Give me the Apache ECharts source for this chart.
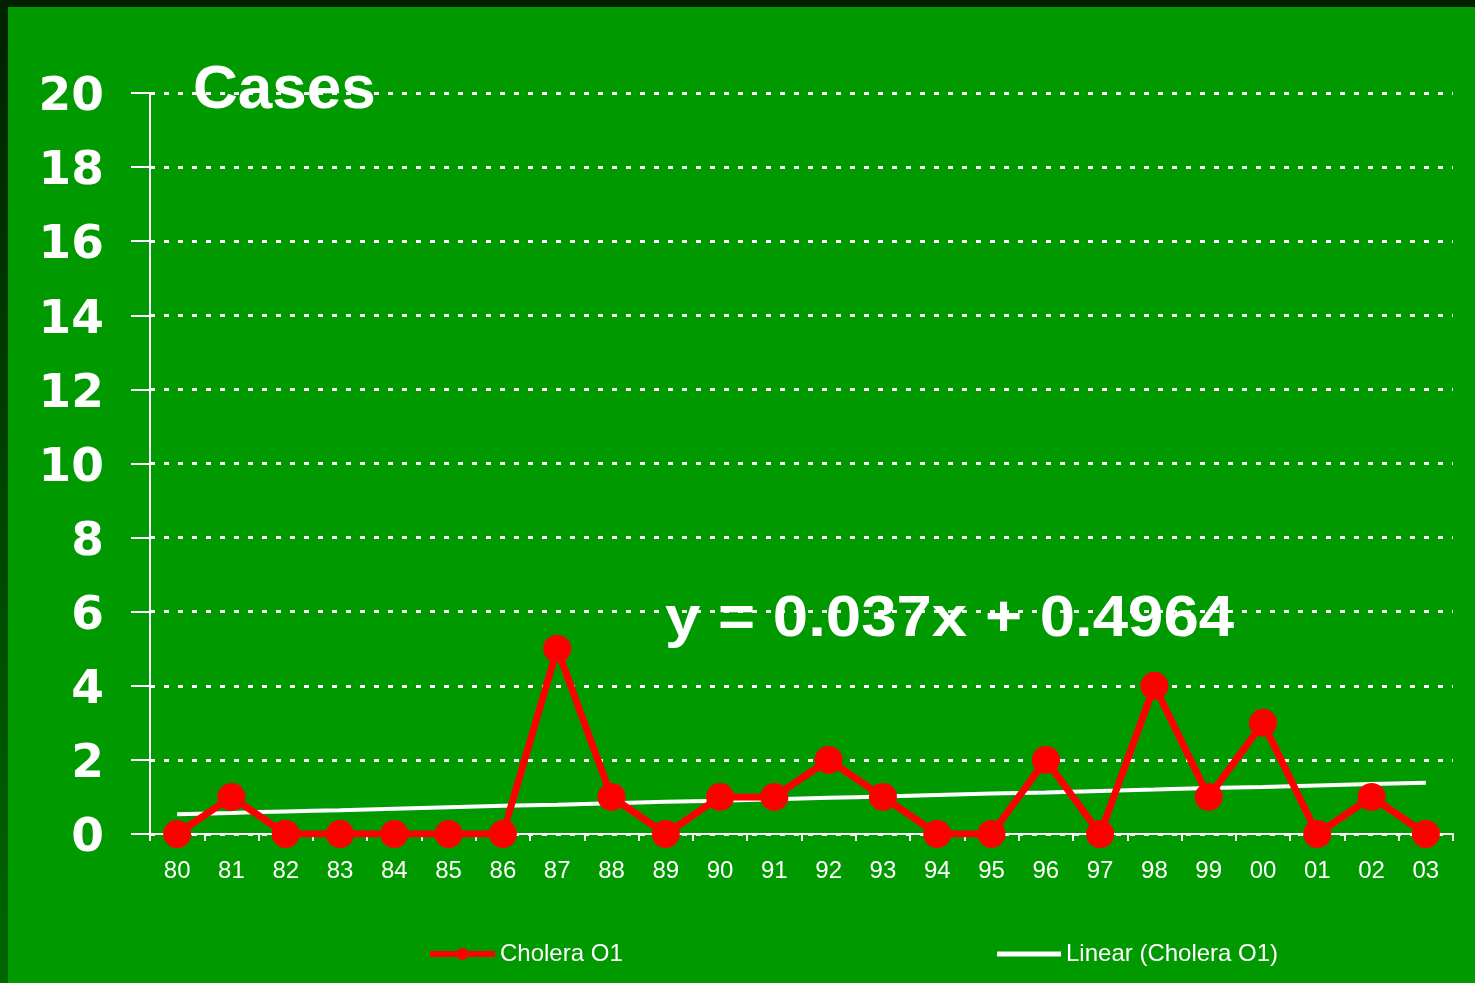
<!DOCTYPE html>
<html><head><meta charset="utf-8">
<script src="https://cdn.jsdelivr.net/npm/echarts@6/dist/echarts.min.js"></script>
<style>html,body{margin:0;padding:0;background:#009900;}#c{width:1475px;height:983px;}</style>
</head><body><div id="c"></div>
<script>
const categories = ['80','81','82','83','84','85','86','87','88','89','90','91','92','93','94','95','96','97','98','99','00','01','02','03'];
const choleraO1 = [0,1,0,0,0,0,0,5,1,0,1,1,2,1,0,0,2,0,4,1,3,0,1,0];
const linearTrend = [0.53,0.57,0.61,0.64,0.68,0.72,0.76,0.79,0.83,0.87,0.90,0.94,0.98,1.01,1.05,1.09,1.12,1.16,1.20,1.24,1.27,1.31,1.35,1.38];
const yTicks = {min:0, max:20, interval:2};
const titleText = 'Cases';
const equationText = 'y = 0.037x + 0.4964';

const chart = echarts.init(document.getElementById('c'));
const FONT = '"Liberation Sans", Arial, sans-serif';
const WIDE = '"DejaVu Sans", sans-serif';
chart.setOption({
  backgroundColor: '#009900',
  animation: false,
  grid: {left:150, right:22, top:93, bottom:149, containLabel:false},
  xAxis: {
    type:'category', data:categories, boundaryGap:true,
    axisLine:{lineStyle:{color:'#fff', width:2}},
    axisTick:{show:true, interval:0, length:7, lineStyle:{color:'#fff', width:2}},
    axisLabel:{color:'#fff', fontSize:24, fontFamily:FONT, margin:25, interval:0},
    splitLine:{show:false}
  },
  yAxis: {
    type:'value', min:yTicks.min, max:yTicks.max, interval:yTicks.interval,
    axisLine:{show:true, lineStyle:{color:'#fff', width:2}},
    axisTick:{show:true, length:19, lineStyle:{color:'#fff', width:2}},
    axisLabel:{color:'#fff', fontSize:47, fontWeight:'bold', fontFamily:WIDE, margin:46, verticalAlign:'top', lineHeight:10},
    splitLine:{show:true, lineStyle:{color:'#fff', width:3, type:[5,9]}}
  },
  legend: [
    {data:[{name:'Cholera O1', icon:'path://M0,3h27v6h-27z M38,3h27v6h-27z M26.5,6a6,6 0 1,0 12,0a6,6 0 1,0 -12,0z', itemStyle:{color:'#ff0000'}}],
     left:430, top:942, padding:0, itemWidth:65, itemHeight:12,
     textStyle:{color:'#fff', fontSize:24, fontFamily:FONT}},
    {data:[{name:'Linear (Cholera O1)', icon:'rect', itemStyle:{color:'#ffffff'}}],
     left:997, top:942, padding:0, itemWidth:64, itemHeight:5,
     textStyle:{color:'#fff', fontSize:24, fontFamily:FONT}}
  ],
  series: [
    {name:'Linear (Cholera O1)', type:'line', data:linearTrend, smooth:true, symbol:'none',
     lineStyle:{color:'#fff', width:4}, itemStyle:{color:'#fff'}, z:2},
    {name:'Cholera O1', type:'line', data:choleraO1, symbol:'circle', symbolSize:28,
     lineStyle:{color:'#ff0000', width:7}, itemStyle:{color:'#ff0000'}, z:3}
  ],
  graphic: [
    {type:'rect', left:0, top:0, shape:{width:1475, height:7}, style:{fill:'#002200'}, z:100},
    {type:'rect', left:0, top:0, shape:{width:8, height:983},
     style:{fill:new echarts.graphic.LinearGradient(0,0,0,1,[{offset:0,color:'#002200'},{offset:1,color:'#006600'}])}, z:100},
    {type:'text', left:193, top:60, style:{text:titleText, fill:'#fff', font:'bold 62px '+FONT}, z:50},
    {type:'text', x:665, y:591, scaleX:1.096, style:{text:equationText, fill:'#fff', font:'bold 58px '+FONT}, z:50}
  ]
});
</script></body></html>
